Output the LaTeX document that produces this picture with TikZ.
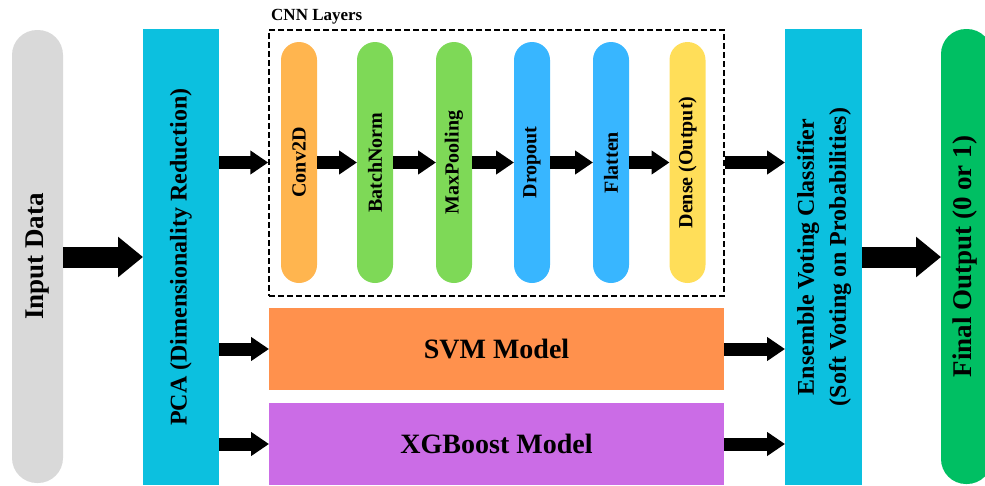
\documentclass[tikz,border=0pt]{standalone}
\usepackage{fontspec}
\setmainfont{Liberation Serif}
\usetikzlibrary{arrows.meta}
\definecolor{cgray}{HTML}{D9D9D9}
\definecolor{ccyan}{HTML}{0CC0DF}
\definecolor{corange}{HTML}{FF914D}
\definecolor{cpurple}{HTML}{CB6CE6}
\definecolor{cfinal}{HTML}{00BF63}
\definecolor{cconv}{HTML}{FFB54F}
\definecolor{cgreen}{HTML}{7ED957}
\definecolor{cblue}{HTML}{38B6FF}
\definecolor{cyellow}{HTML}{FFDE59}
\tikzset{
  blk/.style={draw=none, inner sep=0pt, outer sep=0pt, font=\bfseries},
  pill/.style={blk, rounded corners=18pt, minimum width=36pt, minimum height=241pt, font=\bfseries\fontsize{20}{24}\selectfont},
  bigarrow/.style={line width=21pt, -{Triangle[length=25pt,width=39pt]}},
  smallarrow/.style={line width=13pt, -{Triangle[length=18pt,width=23pt]}},
}
\begin{document}
\begin{tikzpicture}[x=1pt,y=-1pt]
\useasboundingbox (0,0) rectangle (985,485);
% side blocks
\node[blk, fill=cgray, rounded corners=25pt, minimum width=51pt, minimum height=453pt,
      font=\bfseries\fontsize{27}{32}\selectfont] (input) at (37.5,256.5) {\rotatebox{90}{Input Data}};
\node[blk, fill=ccyan, minimum width=76pt, minimum height=456pt,
      font=\bfseries\fontsize{24}{28}\selectfont] (pca) at (181,257) {\rotatebox{90}{PCA (Dimensionality Reduction)}};
\node[blk, fill=ccyan, minimum width=77pt, minimum height=456pt,
      font=\bfseries\fontsize{24}{32}\selectfont] (ens) at (823.5,257)
      {\rotatebox{90}{\begin{tabular}{@{}c@{}}Ensemble Voting Classifier\\(Soft Voting on Probabilities)\end{tabular}}};
\node[blk, fill=cfinal, rounded corners=25pt, minimum width=51pt, minimum height=455pt,
      font=\bfseries\fontsize{27}{32}\selectfont] (final) at (966.5,256.5) {};
\node[font=\bfseries\fontsize{27}{32}\selectfont, inner sep=0pt] (finaltxt) at (965,256.5) {\rotatebox{90}{Final Output (0 or 1)}};
% CNN box
\node[draw, dash pattern=on 6pt off 3pt, line width=1.5pt, minimum width=455pt, minimum height=266pt, inner sep=0pt] (cnn) at (496.5,163) {};
\node[anchor=west, inner sep=0pt, font=\bfseries\fontsize{17}{20}\selectfont] (cnnlbl) at (271,17) {CNN Layers};
% CNN pills
\node[pill, fill=cconv] (c1) at (299,162.5) {\rotatebox{90}{Conv2D}};
\node[pill, fill=cgreen] (c2) at (375,162.5) {\rotatebox{90}{BatchNorm}};
\node[pill, fill=cgreen] (c3) at (454,162.5) {\rotatebox{90}{MaxPooling}};
\node[pill, fill=cblue] (c4) at (532,162.5) {\rotatebox{90}{Dropout}};
\node[pill, fill=cblue] (c5) at (611,162.5) {\rotatebox{90}{Flatten}};
\node[pill, fill=cyellow] (c6) at (687.5,162.5) {\rotatebox{90}{Dense (Output)}};
% models
\node[blk, fill=corange, minimum width=455pt, minimum height=82pt,
      font=\bfseries\fontsize{28}{32}\selectfont] (svm) at (496.5,349) {SVM Model};
\node[blk, fill=cpurple, minimum width=455pt, minimum height=82pt,
      font=\bfseries\fontsize{28}{32}\selectfont] (xgb) at (496.5,444) {XGBoost Model};
% arrows
\draw[bigarrow] (input.east |- pca) -- (pca.west);
\draw[smallarrow] (pca.east |- c1) -- (cnn.west |- c1);
\draw[smallarrow] (pca.east |- svm) -- (svm.west);
\draw[smallarrow] (pca.east |- xgb) -- (xgb.west);
\draw[smallarrow] (c1.east) -- (c2.west);
\draw[smallarrow] (c2.east) -- (c3.west);
\draw[smallarrow] (c3.east) -- (c4.west);
\draw[smallarrow] (c4.east) -- (c5.west);
\draw[smallarrow] (c5.east) -- (c6.west);
\draw[smallarrow] (cnn.east |- c6) -- (ens.west |- c6);
\draw[smallarrow] (svm.east) -- (ens.west |- svm);
\draw[smallarrow] (xgb.east) -- (ens.west |- xgb);
\draw[bigarrow] (ens.east) -- (final.west |- ens.east);
\end{tikzpicture}
\end{document}
